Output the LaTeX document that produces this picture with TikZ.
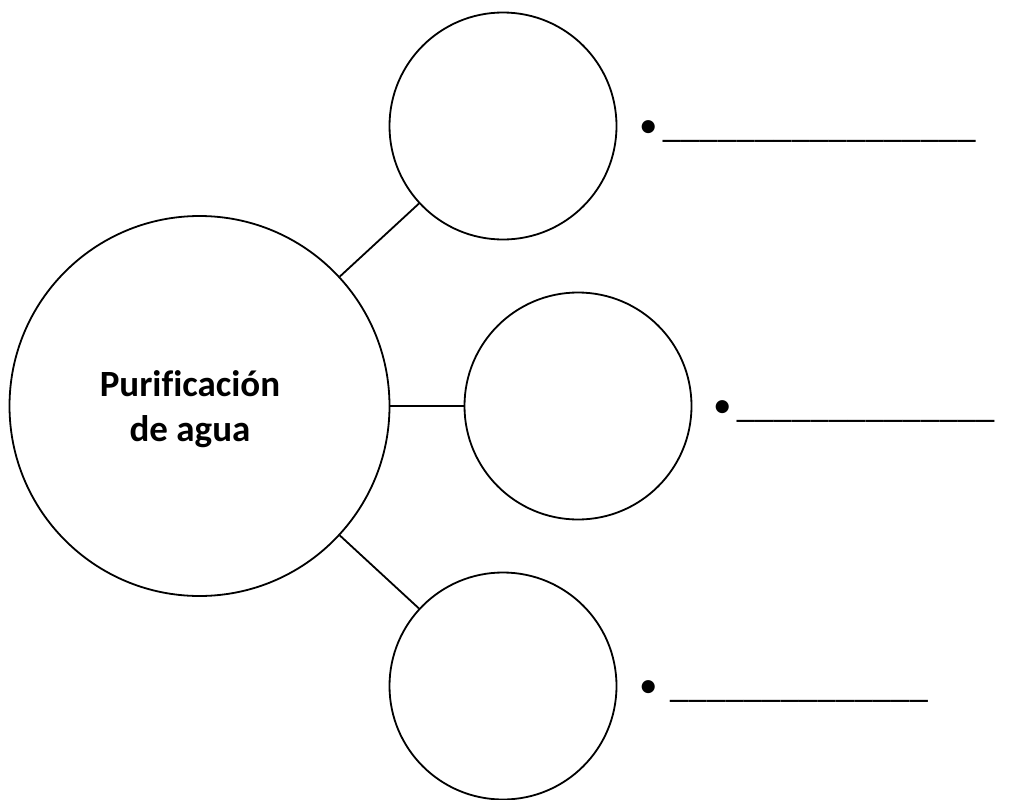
\documentclass[tikz,border=0pt]{standalone}
\usepackage{fontspec}
\setmainfont{Carlito}[Ligatures=NoCommon]
\usepackage{tikz}
\newcommand{\bul}{•\kern5pt}
\tikzset{
  treenode/.style = {align=center, inner sep=0pt, font=\fontsize{37}{45}\selectfont},
  hub/.style = {draw, circle, line width=1.8pt, inner sep=0pt, minimum size=380pt},% gran circulo
  leaf/.style = {hub, minimum size=227pt},
  blank/.style = {treenode, anchor=base west}
}
\begin{document}
\begin{tikzpicture}[x=1pt,y=-1pt]
\useasboundingbox (0,0) rectangle (1009,800);
\node [hub] (p0) at (199.5,406) {};
\node [treenode, font=\fontsize{37}{45}\selectfont\bfseries] (lbl) at (190,409) {Purificación\\de agua};
\node [leaf] (p1_1) at (503,126) {};
\node [leaf] (p1_2) at (578,406) {};
\node [leaf] (p1_3) at (503,686) {};
\draw [line width=1.8pt] (p0) -- (p1_1);
\draw [line width=1.8pt] (p0) -- (p1_2);
\draw [line width=1.8pt] (p0) -- (p1_3);
\node [blank] (t1_1) at (639,137) {\bul\_\_\_\_\_\_\_\_\_\_\_\_\_\_\_\_\_};
\node [blank] (t1_2) at (713,417) {\bul\_\_\_\_\_\_\_\_\_\_\_\_\_\_};
\node [blank] (t1_3) at (639,697) {\bul\kern-1pt\ \_\_\_\_\_\_\_\_\_\_\_\_\_\_};
\end{tikzpicture}
\end{document}
